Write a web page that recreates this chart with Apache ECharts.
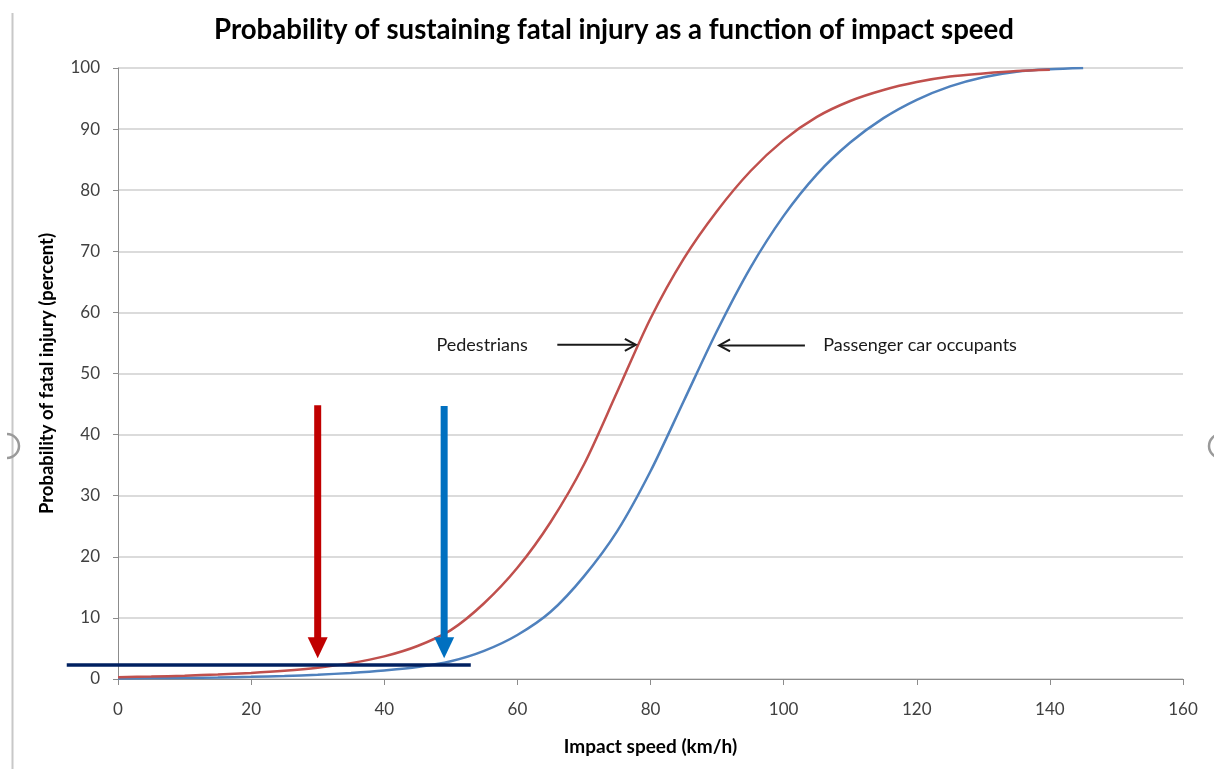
<!DOCTYPE html>
<html><head><meta charset="utf-8">
<script src="https://cdn.jsdelivr.net/npm/echarts@6/dist/echarts.min.js"></script>
<style>html,body{margin:0;padding:0;background:#fff}#c{width:1214px;height:769px}</style>
</head><body><div id="c"></div>
<script>
// ---- data ----
const titleText = 'Probability of sustaining fatal injury as a function of impact speed';
const xAxisName = 'Impact speed (km/h)';
const yAxisName = 'Probability of fatal injury (percent)';

const pedSpeeds = [0,5,10,15,20,25,30,35,40,45,50,55,60,65,70,75,80,85,90,95,100,105,110,115,120,125,130,135,140];
const pedestrians = [0.3,0.4,0.55,0.75,1.0,1.35,1.85,2.6,3.7,5.4,8.0,12.4,18.2,25.7,35.1,47.0,59.0,68.8,76.6,83.1,88.2,92.0,94.6,96.4,97.7,98.6,99.1,99.5,99.7];

const occSpeeds = [0,5,10,15,20,25,30,35,40,45,50,55,60,65,70,75,80,85,90,95,100,105,110,115,120,125,130,135,140,145];
const occupants = [0.1,0.15,0.2,0.25,0.35,0.5,0.7,1.0,1.4,1.95,2.9,4.6,7.2,11.0,16.8,24.2,34.0,45.5,57.0,67.3,75.8,82.6,87.8,91.8,94.8,97.0,98.5,99.4,99.8,100];

const xMin = 0, xMax = 160, xStep = 20;
const yMin = 0, yMax = 100, yStep = 10;

const thresholdX = [-7.7, 53];
const thresholdY = 2.3;

const redArrow = { x: 30, top: 44.8, tip: 3.4 };
const blueArrow = { x: 49, top: 44.7, tip: 3.4 };

const pedLabel = { text: 'Pedestrians', x: 54.7, y: 54.7 };
const pedPointer = { from: 66.0, to: 77.8, y: 54.7 };
const occLabel = { text: 'Passenger car occupants', x: 120.5, y: 54.6 };
const occPointer = { from: 103.2, to: 90.3, y: 54.6 };

// ---- chart ----
const chart = echarts.init(document.getElementById('c'), null, { renderer: 'canvas' });
const FONT = 'Lato, "Open Sans", sans-serif';

chart.setOption({
  animation: false,
  backgroundColor: '#ffffff',
  title: {
    text: titleText, left: 614, top: 16, padding: 0, textAlign: 'center',
    textStyle: { fontFamily: FONT, fontSize: 27.6, fontWeight: 'bold', color: '#000' }
  },
  grid: { left: 118, right: 31, top: 68, bottom: 90, containLabel: false },
  xAxis: {
    type: 'value', min: xMin, max: xMax, interval: xStep,
    name: xAxisName, nameLocation: 'middle', nameGap: 58,
    nameTextStyle: { fontFamily: FONT, fontSize: 19, fontWeight: 'bold', color: '#000' },
    axisLine: { show: true, lineStyle: { color: '#8c8c8c', width: 1 } },
    axisTick: { show: true, length: 6, lineStyle: { color: '#8c8c8c' } },
    axisLabel: { margin: 22, fontFamily: FONT, fontSize: 17, color: '#404040' },
    splitLine: { show: false }
  },
  yAxis: {
    type: 'value', min: yMin, max: yMax, interval: yStep,
    name: yAxisName, nameLocation: 'middle', nameGap: 61,
    nameTextStyle: { fontFamily: FONT, fontSize: 18.5, fontWeight: 'bold', color: '#000' },
    axisLine: { show: true, lineStyle: { color: '#8c8c8c', width: 1 } },
    axisTick: { show: true, length: 5, lineStyle: { color: '#8c8c8c' } },
    axisLabel: { margin: 18, fontFamily: FONT, fontSize: 17, color: '#404040' },
    splitLine: { show: true, lineStyle: { color: '#cfcfcf', width: 1.5 } }
  },
  series: [
    {
      name: 'Passenger car occupants', type: 'line', smooth: 0.3, showSymbol: false, symbol: 'none',
      data: occSpeeds.map((s, i) => [s, occupants[i]]),
      lineStyle: { color: '#4f81bd', width: 2.5 }, z: 3
    },
    {
      name: 'Pedestrians', type: 'line', smooth: 0.3, showSymbol: false, symbol: 'none',
      data: pedSpeeds.map((s, i) => [s, pedestrians[i]]),
      lineStyle: { color: '#c0504d', width: 2.5 }, z: 3
    }
  ]
});

// pixel mapping through the library's axes (linearly extended beyond the extent)
const p0 = chart.convertToPixel({ gridIndex: 0 }, [xMin, yMin]);
const p1 = chart.convertToPixel({ gridIndex: 0 }, [xMax, yMax]);
function px(x, y) {
  return [p0[0] + (x - xMin) / (xMax - xMin) * (p1[0] - p0[0]),
          p0[1] + (y - yMin) / (yMax - yMin) * (p1[1] - p0[1])];
}

const g = [];
// screenshot frame artifacts
g.push({ type: 'line', shape: { x1: 12.5, y1: 13, x2: 12.5, y2: 769 }, style: { stroke: '#c8c8c8', lineWidth: 2 }, z: 1 });
g.push({ type: 'arc', shape: { cx: 7, cy: 446, r: 12, startAngle: -Math.PI / 2, endAngle: Math.PI / 2 }, style: { stroke: '#9a9a9a', lineWidth: 2.5, fill: null }, z: 1 });
g.push({ type: 'arc', shape: { cx: 1221, cy: 446, r: 12, startAngle: Math.PI / 2, endAngle: Math.PI * 1.5 }, style: { stroke: '#9a9a9a', lineWidth: 2.5, fill: null }, z: 1 });

// navy threshold line
const ta = px(thresholdX[0], thresholdY), tb = px(thresholdX[1], thresholdY);
g.push({ type: 'line', shape: { x1: ta[0], y1: ta[1], x2: tb[0], y2: tb[1] }, style: { stroke: '#002060', lineWidth: 3.5 }, z: 9 });

// thick vertical arrows
function bigArrow(a, color) {
  const t = px(a.x, a.top), tip = px(a.x, a.tip);
  const headH = 21, headW = 10;
  g.push({ type: 'rect', shape: { x: t[0] - 3.5, y: t[1], width: 7, height: tip[1] - headH - t[1] + 1 }, style: { fill: color }, z: 10 });
  g.push({ type: 'polygon', shape: { points: [[tip[0] - headW, tip[1] - headH], [tip[0] + headW, tip[1] - headH], [tip[0], tip[1]]] }, style: { fill: color }, z: 10 });
}
bigArrow(redArrow, '#c00000');
bigArrow(blueArrow, '#0070c0');

// thin pointer arrows
function pointer(p) {
  const a = px(p.from, p.y), b = px(p.to, p.y);
  const dir = b[0] > a[0] ? 1 : -1;
  g.push({ type: 'line', shape: { x1: a[0], y1: a[1], x2: b[0] - dir * 1, y2: b[1] }, style: { stroke: '#1a1a1a', lineWidth: 2 }, z: 10 });
  g.push({ type: 'polyline', shape: { points: [[b[0] - dir * 11, b[1] - 6], [b[0], b[1]], [b[0] - dir * 11, b[1] + 6]] }, style: { stroke: '#1a1a1a', lineWidth: 2, fill: null }, z: 10 });
}
pointer(pedPointer);
pointer(occPointer);

function label(l) {
  const p = px(l.x, l.y);
  g.push({ type: 'text', x: p[0], y: p[1], style: { text: l.text, fontFamily: FONT, fontSize: 18, fill: '#1a1a1a', align: 'center', verticalAlign: 'middle' }, z: 10 });
}
label(pedLabel);
label(occLabel);

chart.setOption({ graphic: g });
</script>
</body></html>
